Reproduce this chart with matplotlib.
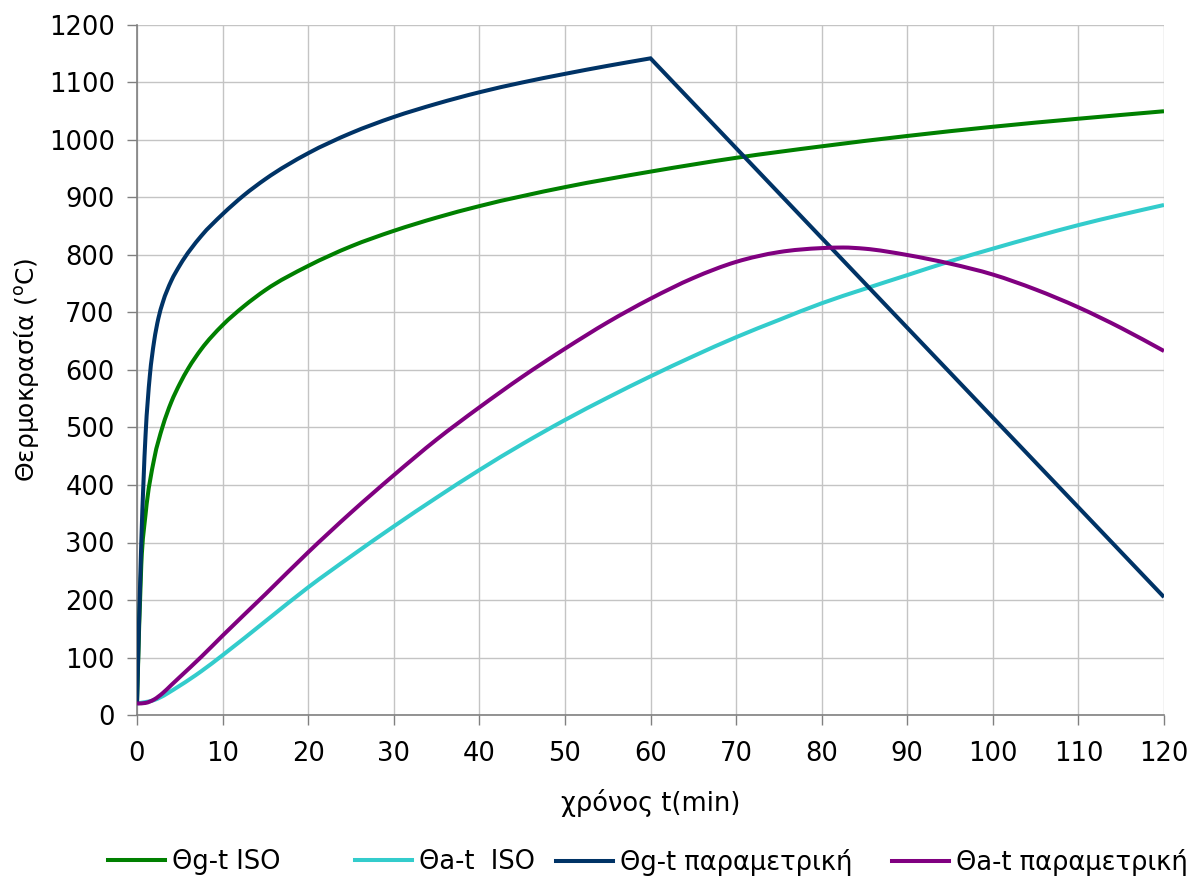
import matplotlib
matplotlib.use("Agg")
import matplotlib.pyplot as plt
import numpy as np
from matplotlib.path import Path
from matplotlib.patches import PathPatch
from matplotlib.lines import Line2D

plt.rcParams['font.family'] = ['DejaVu Sans']

# Θg-t ISO
t_iso_g = [0, 0.5, 1, 2, 3, 4, 5, 6, 7.5, 10, 12.5, 15, 20, 25, 30, 35, 40, 50, 60, 70, 80, 90, 100, 110, 120]
v_iso_g = [20, 261, 349, 445, 502, 544, 576, 603, 636, 678, 711, 739, 781, 815, 842, 865, 885, 918, 945, 969, 989, 1007, 1023, 1037, 1050]

# Θa-t ISO
t_iso_a = [0, 2, 5, 7.5, 10, 15, 20, 25, 30, 35, 40, 45, 50, 55, 60, 65, 70, 75, 80, 85, 90, 95, 100, 105, 110, 115, 120]
v_iso_a = [20, 26, 51, 76, 104, 163, 222, 276, 328, 378, 426, 471, 513, 552, 589, 624, 657, 687, 716, 741, 765, 789, 811, 832, 852, 870, 887]

# Θg-t παραμετρική
t_par_g = [0, 0.5, 1, 1.5, 2, 2.5, 3, 4, 5, 7.5, 10, 12.5, 15, 20, 25, 30, 35, 40, 45, 50, 55, 60, 120]
v_par_g = [20, 300, 487, 590, 650, 690, 717, 755, 782, 833, 871, 904, 932, 977, 1012, 1040, 1063, 1083, 1100, 1115, 1129, 1142, 205]

# Θa-t παραμετρική
t_par_a = [0, 1, 2, 3, 4, 5, 7.5, 10, 15, 20, 25, 30, 35, 40, 45, 50, 55, 60, 65, 70, 75, 80, 82.5, 85, 90, 95, 100, 105, 110, 115, 120]
v_par_a = [20, 21, 27, 38, 52, 66, 101, 138, 210, 283, 352, 417, 479, 535, 588, 637, 683, 724, 760, 788, 805, 812, 813, 811, 800, 785, 766, 740, 709, 673, 633]

labels = ["Θg-t ISO", "Θa-t  ISO", "Θg-t παραμετρική", "Θa-t παραμετρική"]
colors = ["#008000", "#33CCCC", "#003366", "#800080"]

xticks = list(range(0, 121, 10))
yticks = list(range(0, 1201, 100))


def smooth_segments(x, y):
    """Bezier (smoothed line) segments through the given points."""
    x = np.asarray(x, float)
    y = np.asarray(y, float)
    h = np.diff(x)
    d = np.diff(y) / h
    n = len(x)
    m = np.zeros(n)
    m[0] = d[0]
    m[-1] = d[-1]
    for k in range(1, n - 1):
        if d[k - 1] * d[k] <= 0:
            m[k] = 0.0
        else:
            mk = (h[k] * d[k - 1] + h[k - 1] * d[k]) / (h[k - 1] + h[k])
            lim = 3 * min(abs(d[k - 1]), abs(d[k]))
            m[k] = np.sign(mk) * min(abs(mk), lim)
    verts, codes = [], []
    for i in range(n - 1):
        verts += [(x[i] + h[i] / 3, y[i] + m[i] * h[i] / 3),
                  (x[i + 1] - h[i] / 3, y[i + 1] - m[i + 1] * h[i] / 3),
                  (x[i + 1], y[i + 1])]
        codes += [Path.CURVE4] * 3
    return verts, codes


def curve(ax, x, y, color, lw, corner=None):
    end = len(x) - 1 if corner is None else corner
    v, c = smooth_segments(x[:end + 1], y[:end + 1])
    verts = [(x[0], y[0])] + v
    codes = [Path.MOVETO] + c
    for j in range(end + 1, len(x)):
        verts.append((x[j], y[j]))
        codes.append(Path.LINETO)
    p = PathPatch(Path(verts, codes), fill=False, edgecolor=color, lw=lw,
                  joinstyle='miter', capstyle='butt', zorder=3)
    ax.add_patch(p)


W, H = 1201, 881
fig = plt.figure(figsize=(W / 100, H / 100), dpi=100)
ax = fig.add_axes([137 / W, 1 - 715 / H, (1164 - 137) / W, (715 - 25) / H])

lw = 2.9
curve(ax, t_iso_g, v_iso_g, colors[0], lw)
curve(ax, t_iso_a, v_iso_a, colors[1], lw)
curve(ax, t_par_g, v_par_g, colors[2], lw, corner=t_par_g.index(60))
curve(ax, t_par_a, v_par_a, colors[3], lw)

ax.set_xlim(0, 120)
ax.set_ylim(0, 1200)
ax.set_xticks(xticks)
ax.set_yticks(yticks)
ax.tick_params(axis='both', labelsize=18.5, direction='out', length=7, width=1,
               color='#808080')
ax.tick_params(axis='x', pad=12)
ax.tick_params(axis='y', pad=9)
ax.grid(True, color='#c4c4c4', lw=1)
ax.set_axisbelow(True)
for s in ['top', 'right']:
    ax.spines[s].set_visible(False)
for s in ['left', 'bottom']:
    ax.spines[s].set_color('#808080')
    ax.spines[s].set_linewidth(1.2)

ax.set_xlabel("χρόνος t(min)", fontsize=18.5, va='center')
ax.xaxis.set_label_coords(0.5, (715 - 803) / 690)
ax.set_ylabel("Θερμοκρασία ($^{\\mathrm{o}}$C)", fontsize=18, va='center')
ax.yaxis.set_label_coords((27 - 137) / 1027, 0.5)

# legend entries placed one by one, as in the reference
handle_x = [108, 355, 556, 892]
for lab, col, hx in zip(labels, colors, handle_x):
    fig.legend([Line2D([], [], color=col, lw=lw)], [lab], loc='center left',
               bbox_to_anchor=(hx / W, 1 - 862 / H), frameon=False,
               fontsize=18.5, handlelength=2.2, handletextpad=0.28,
               borderpad=0, borderaxespad=0)

fig.savefig("out.png", dpi=100)
